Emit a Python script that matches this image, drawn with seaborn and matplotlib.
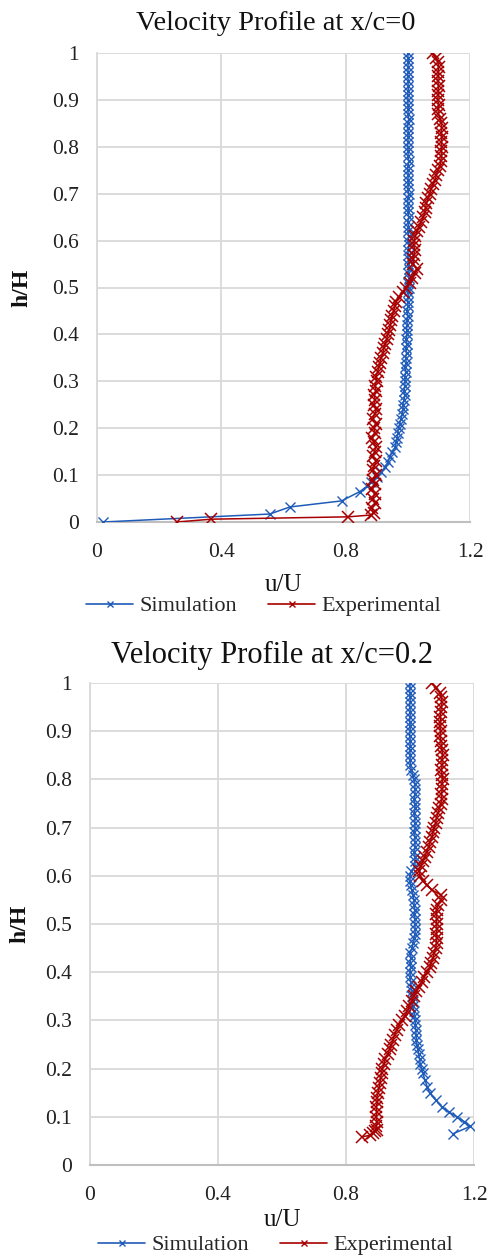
import matplotlib
matplotlib.use("Agg")
import matplotlib.pyplot as plt
import seaborn as sns
from matplotlib.lines import Line2D

# ---- data: x/c = 0 ----
h0_sim = [0.000, 0.017, 0.032, 0.045, 0.065, 0.076, 0.086, 0.097, 0.107, 0.118,
          0.128, 0.139, 0.150, 0.160, 0.170, 0.180, 0.190, 0.200, 0.210, 0.220,
          0.230, 0.240, 0.250, 0.260, 0.270, 0.280, 0.290, 0.300, 0.310, 0.320,
          0.330, 0.340, 0.350, 0.360, 0.370, 0.380, 0.390, 0.400, 0.410, 0.420,
          0.430, 0.440, 0.450, 0.460, 0.470, 0.480, 0.490, 0.500, 0.510, 0.520,
          0.530, 0.540, 0.550, 0.560, 0.570, 0.580, 0.590, 0.600, 0.610, 0.620,
          0.630, 0.640, 0.650, 0.660, 0.670, 0.680, 0.690, 0.700, 0.710, 0.720,
          0.730, 0.740, 0.750, 0.760, 0.770, 0.780, 0.790, 0.800, 0.810, 0.820,
          0.830, 0.840, 0.850, 0.860, 0.870, 0.880, 0.890, 0.900, 0.910, 0.920,
          0.930, 0.940, 0.950, 0.960, 0.970, 0.980, 0.990, 1.000]
u0_sim = [0.020, 0.556, 0.620, 0.787, 0.846, 0.868, 0.880, 0.900, 0.915, 0.928,
          0.936, 0.942, 0.950, 0.960, 0.963, 0.966, 0.968, 0.970, 0.974, 0.978,
          0.982, 0.985, 0.984, 0.988, 0.990, 0.988, 0.990, 0.992, 0.990, 0.994,
          0.992, 0.995, 0.993, 0.996, 0.994, 0.997, 0.995, 0.998, 0.996, 0.998,
          0.997, 1.000, 0.998, 1.001, 0.999, 1.002, 1.000, 1.003, 1.001, 1.004,
          1.002, 1.004, 1.001, 1.003, 1.000, 1.002, 1.004, 1.001, 1.003, 1.000,
          1.002, 1.000, 1.003, 1.001, 1.002, 0.999, 1.001, 1.003, 1.000, 1.002,
          1.000, 1.002, 0.999, 1.001, 1.003, 1.000, 1.002, 0.999, 1.001, 1.000,
          1.002, 0.999, 1.001, 1.003, 1.000, 1.002, 1.000, 1.001, 0.999, 1.002,
          1.000, 1.002, 0.999, 1.001, 1.000, 1.002, 1.000, 1.001]

h0_exp = [0.000, 0.006, 0.011, 0.015, 0.020, 0.030, 0.040, 0.050, 0.060, 0.070,
          0.080, 0.090, 0.100, 0.110, 0.120, 0.130, 0.140, 0.150, 0.160, 0.170,
          0.180, 0.190, 0.200, 0.210, 0.220, 0.230, 0.240, 0.250, 0.260, 0.270,
          0.280, 0.290, 0.300, 0.310, 0.320, 0.330, 0.340, 0.350, 0.360, 0.370,
          0.380, 0.390, 0.400, 0.410, 0.420, 0.430, 0.440, 0.450, 0.460, 0.470,
          0.480, 0.490, 0.500, 0.510, 0.520, 0.530, 0.540, 0.550, 0.560, 0.570,
          0.580, 0.590, 0.600, 0.610, 0.620, 0.630, 0.640, 0.650, 0.660, 0.670,
          0.680, 0.690, 0.700, 0.710, 0.720, 0.730, 0.740, 0.750, 0.760, 0.770,
          0.780, 0.790, 0.800, 0.810, 0.820, 0.830, 0.840, 0.850, 0.860, 0.870,
          0.880, 0.890, 0.900, 0.910, 0.920, 0.930, 0.940, 0.950, 0.960, 0.970,
          0.980, 0.990, 1.000]
u0_exp = [0.256, 0.368, 0.808, 0.883, 0.890, 0.885, 0.895, 0.888, 0.893, 0.886,
          0.894, 0.889, 0.896, 0.887, 0.892, 0.898, 0.888, 0.893, 0.897, 0.890,
          0.886, 0.894, 0.891, 0.897, 0.888, 0.893, 0.899, 0.890, 0.895, 0.892,
          0.898, 0.894, 0.900, 0.897, 0.903, 0.906, 0.910, 0.914, 0.920, 0.922,
          0.928, 0.932, 0.935, 0.940, 0.944, 0.946, 0.950, 0.954, 0.958, 0.962,
          0.972, 0.985, 0.995, 1.006, 1.015, 1.022, 1.028, 1.017, 1.018, 1.020,
          1.022, 1.019, 1.021, 1.024, 1.030, 1.036, 1.043, 1.050, 1.054, 1.057,
          1.060, 1.065, 1.070, 1.075, 1.081, 1.087, 1.092, 1.096, 1.103, 1.106,
          1.108, 1.107, 1.109, 1.108, 1.110, 1.107, 1.109, 1.108, 1.104, 1.098,
          1.097, 1.099, 1.096, 1.098, 1.097, 1.099, 1.096, 1.098, 1.097, 1.099,
          1.097, 1.090, 1.080]

# ---- data: x/c = 0.2 ----
h2_sim = [0.065, 0.080, 0.090, 0.100, 0.110, 0.120, 0.135, 0.149, 0.162, 0.176,
          0.190, 0.200, 0.210, 0.220, 0.230, 0.240, 0.250, 0.260, 0.270, 0.280,
          0.290, 0.300, 0.310, 0.320, 0.330, 0.340, 0.350, 0.360, 0.370, 0.380,
          0.390, 0.400, 0.410, 0.420, 0.430, 0.440, 0.450, 0.460, 0.470, 0.480,
          0.490, 0.500, 0.510, 0.520, 0.530, 0.540, 0.550, 0.560, 0.570, 0.580,
          0.590, 0.600, 0.610, 0.620, 0.630, 0.640, 0.650, 0.660, 0.670, 0.680,
          0.690, 0.700, 0.710, 0.720, 0.730, 0.740, 0.750, 0.760, 0.770, 0.780,
          0.790, 0.800, 0.810, 0.820, 0.830, 0.840, 0.850, 0.860, 0.870, 0.880,
          0.890, 0.900, 0.910, 0.920, 0.930, 0.940, 0.950, 0.960, 0.970, 0.980,
          0.990, 1.000]
u2_sim = [1.135, 1.188, 1.170, 1.146, 1.122, 1.100, 1.080, 1.062, 1.054, 1.047,
          1.040, 1.036, 1.032, 1.030, 1.027, 1.025, 1.022, 1.020, 1.019, 1.018,
          1.017, 1.016, 1.014, 1.012, 1.010, 1.008, 1.006, 1.005, 1.004, 1.002,
          1.001, 1.000, 1.002, 1.000, 1.004, 1.000, 1.006, 1.010, 1.014, 1.016,
          1.016, 1.015, 1.016, 1.014, 1.015, 1.013, 1.012, 1.010, 1.006, 1.002,
          1.000, 1.000, 1.004, 1.016, 1.015, 1.016, 1.014, 1.016, 1.015, 1.016,
          1.014, 1.016, 1.015, 1.016, 1.014, 1.016, 1.015, 1.014, 1.016, 1.015,
          1.016, 1.012, 1.008, 1.004, 1.001, 1.000, 1.001, 0.999, 1.000, 1.001,
          0.999, 1.000, 1.001, 0.999, 1.000, 1.001, 0.999, 1.000, 1.001, 0.999,
          1.000, 1.000]

h2_exp = [0.058, 0.062, 0.066, 0.070, 0.073, 0.080, 0.090, 0.100, 0.110, 0.120,
          0.130, 0.140, 0.150, 0.160, 0.170, 0.180, 0.190, 0.200, 0.210, 0.220,
          0.230, 0.240, 0.250, 0.260, 0.270, 0.280, 0.290, 0.300, 0.310, 0.320,
          0.330, 0.340, 0.350, 0.360, 0.370, 0.380, 0.390, 0.400, 0.410, 0.420,
          0.430, 0.440, 0.450, 0.460, 0.470, 0.480, 0.490, 0.500, 0.510, 0.520,
          0.530, 0.540, 0.550, 0.560, 0.570, 0.580, 0.590, 0.600, 0.610, 0.620,
          0.630, 0.640, 0.650, 0.660, 0.670, 0.680, 0.690, 0.700, 0.710, 0.720,
          0.730, 0.740, 0.750, 0.760, 0.770, 0.780, 0.790, 0.800, 0.810, 0.820,
          0.830, 0.840, 0.850, 0.860, 0.870, 0.880, 0.890, 0.900, 0.910, 0.920,
          0.930, 0.940, 0.950, 0.960, 0.970, 0.980, 0.990, 1.000]
u2_exp = [0.850, 0.875, 0.885, 0.892, 0.896, 0.894, 0.898, 0.893, 0.897, 0.894,
          0.898, 0.896, 0.900, 0.903, 0.906, 0.908, 0.911, 0.914, 0.918, 0.923,
          0.930, 0.936, 0.942, 0.947, 0.952, 0.958, 0.966, 0.975, 0.984, 0.992,
          0.998, 1.005, 1.012, 1.020, 1.028, 1.036, 1.044, 1.052, 1.062, 1.066,
          1.072, 1.076, 1.080, 1.083, 1.084, 1.082, 1.085, 1.083, 1.084, 1.082,
          1.083, 1.088, 1.096, 1.098, 1.070, 1.052, 1.040, 1.032, 1.028, 1.034,
          1.040, 1.046, 1.052, 1.058, 1.063, 1.068, 1.072, 1.076, 1.080, 1.083,
          1.087, 1.092, 1.096, 1.100, 1.098, 1.101, 1.099, 1.102, 1.100, 1.098,
          1.101, 1.099, 1.102, 1.100, 1.098, 1.096, 1.094, 1.096, 1.093, 1.095,
          1.094, 1.096, 1.098, 1.100, 1.098, 1.094, 1.082, 1.068]

titles = ["Velocity Profile at x/c=0", "Velocity Profile at x/c=0.2"]
series_labels = ["Simulation", "Experimental"]
x_ticks = [0, 0.4, 0.8, 1.2]
y_ticks = [0, 0.1, 0.2, 0.3, 0.4, 0.5, 0.6, 0.7, 0.8, 0.9, 1]
y_tick_labels = ["0", "0.1", "0.2", "0.3", "0.4", "0.5", "0.6", "0.7", "0.8", "0.9", "1"]
x_tick_labels = ["0", "0.4", "0.8", "1.2"]

BLUE = "#1F5BB8"
RED = "#A80000"
GRID = "#D9D9D9"
TXT = "#111111"

sns.set_style("white")
plt.rcParams["font.family"] = ["Liberation Serif", "DejaVu Serif"]

W, H = 487, 1256
fig = plt.figure(figsize=(W / 100, H / 100), dpi=100)

# pixel boxes: left, top, right, bottom
boxes = [(97, 53, 470, 522), (90, 683, 474, 1165)]
title_y = [24, 655]
title_x = [276, 272]
title_size = [20.5, 22]
xlabel_y = [585, 1220]
legend_y = [606, 1245]
legend_x = [264, 276]
ylabel_x = [32, 30]

panels = [(u0_sim, h0_sim, u0_exp, h0_exp), (u2_sim, h2_sim, u2_exp, h2_exp)]

for i, (us, hs, ue, he) in enumerate(panels):
    l, t, r, b = boxes[i]
    ax = fig.add_axes([l / W, 1 - b / H, (r - l) / W, (b - t) / H])
    sns.lineplot(x=us, y=hs, sort=False, estimator=None, ax=ax, color=BLUE,
                 marker="x", markersize=7.5, markeredgewidth=1.0, linewidth=1.1,
                 markeredgecolor=BLUE, zorder=3)
    sns.lineplot(x=ue, y=he, sort=False, estimator=None, ax=ax, color=RED,
                 marker="x", markersize=8, markeredgewidth=1.1, linewidth=1.1,
                 markeredgecolor=RED, zorder=4)
    ax.set_xlim(0, 1.2)
    ax.set_ylim(0, 1)
    ax.set_xticks(x_ticks)
    ax.set_xticklabels(x_tick_labels)
    ax.set_yticks(y_ticks)
    ax.set_yticklabels(y_tick_labels)
    ax.tick_params(axis="both", length=0, labelsize=15.5, colors="#222222")
    ax.tick_params(axis="x", pad=15)
    ax.tick_params(axis="y", pad=13)
    ax.grid(True, color=GRID, linewidth=1.3)
    ax.set_axisbelow(True)
    for side in ["top", "right"]:
        ax.spines[side].set_visible(False)
    ax.spines["left"].set_color(GRID)
    ax.spines["left"].set_linewidth(1.3)
    ax.spines["bottom"].set_color("#BFBFBF")
    ax.spines["bottom"].set_linewidth(1.5)
    ax.set_xlabel("")
    ax.set_ylabel("h/H", fontsize=17, fontweight="bold", color=TXT)
    ax.yaxis.set_label_coords((ylabel_x[i] - l) / (r - l), 0.5)

    cx = (l + r) / 2 / W
    fig.text(title_x[i] / W, 1 - title_y[i] / H, titles[i], ha="center", va="center",
             fontsize=title_size[i], color=TXT)
    fig.text(cx, 1 - xlabel_y[i] / H, "u/U", ha="center", va="center",
             fontsize=18, color=TXT)

    handles = [Line2D([], [], color=BLUE, marker="x", markersize=4.5, linewidth=1.2),
               Line2D([], [], color=RED, marker="x", markersize=4.5, linewidth=1.2)]
    fig.legend(handles, series_labels, loc="center", ncol=2, frameon=False,
               bbox_to_anchor=(legend_x[i] / W, 1 - legend_y[i] / H), fontsize=16,
               handlelength=2.1, handletextpad=0.3, columnspacing=1.4,
               borderaxespad=0, borderpad=0)

fig.savefig("out.png", dpi=100)
